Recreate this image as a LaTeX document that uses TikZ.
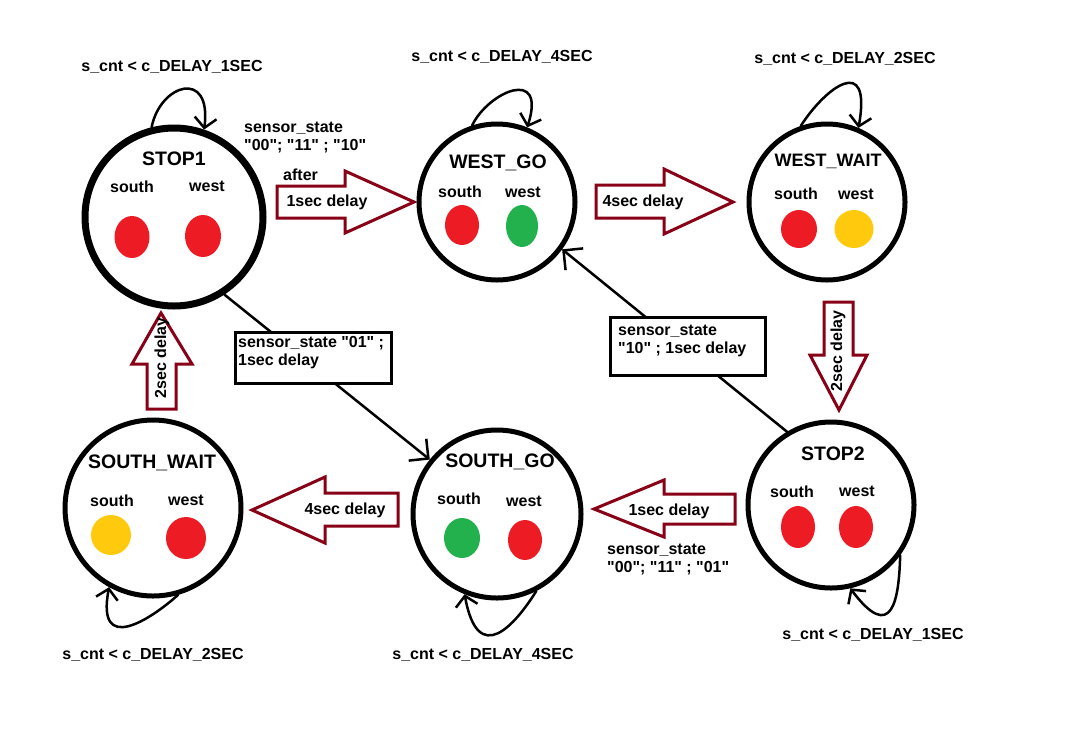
\documentclass[tikz,border=0pt]{standalone}
\usepackage{fontspec}
\setmainfont{Liberation Sans}[Ligatures=TeXOff]
\usetikzlibrary{arrows.meta,shapes.geometric}
\definecolor{lampred}{HTML}{ED1C24}
\definecolor{lampgreen}{HTML}{22B14C}
\definecolor{lampyellow}{HTML}{FFC90E}
\definecolor{arrowred}{HTML}{880015}
\begin{document}
\begin{tikzpicture}[x=1pt,y=-1pt,>={Straight Barb[length=14pt,width=28pt]}, line join=round, line cap=round,
	txt/.style={font=\fontsize{16}{18}\selectfont\bfseries, inner sep=0pt},
	ttl/.style={font=\fontsize{19.5}{22}\selectfont\bfseries, inner sep=0pt},
	state/.style={circle, draw, line width=5pt, inner sep=0pt},
	lamp/.style={ellipse, draw=none, inner sep=0pt},
	blockarrow/.style={draw=arrowred, line width=3pt, line join=miter},
	conn/.style={->, line width=2.5pt},
	selfloop/.style={-{Straight Barb[length=10pt,width=22pt]}, line width=2.5pt},
	notebox/.style={draw, fill=white, line width=3pt, line join=miter, inner sep=0pt}]
	\useasboundingbox (0,0) rectangle (1075,732);
	% states
	\node[state, line width=7pt, minimum size=178pt] (stop1) at (174,217) {};
	\node[state, minimum size=156pt] (westgo) at (497,202) {};
	\node[state, minimum size=156pt] (westwait) at (827,202) {};
	\node[state, minimum size=166pt] (stop2) at (831,505) {};
	\node[state, minimum size=168pt] (southgo) at (497,514) {};
	\node[state, minimum size=176pt] (southwait) at (153,508) {};
	% names
	\node[ttl] (stop1-t) at (174,159) {STOP1};
	\node[ttl] (westgo-t) at (498,163) {WEST\_GO};
	\node[ttl, font=\fontsize{18}{20}\selectfont\bfseries] (westwait-t) at (828,161) {WEST\_WAIT};
	\node[ttl] (stop2-t) at (833,454) {STOP2};
	\node[ttl] (southgo-t) at (500,462) {SOUTH\_GO};
	\node[ttl] (southwait-t) at (152,463) {SOUTH\_WAIT};
	% south / west
	\node[txt] (stop1-s) at (132,187) {south};
	\node[txt] (stop1-w) at (207,186) {west};
	\node[txt] (westgo-s) at (460,192) {south};
	\node[txt] (westgo-w) at (523,192) {west};
	\node[txt] (westwait-s) at (796,194) {south};
	\node[txt] (westwait-w) at (856,194) {west};
	\node[txt] (stop2-s) at (792,492) {south};
	\node[txt] (stop2-w) at (857,491) {west};
	\node[txt] (southgo-s) at (459,499) {south};
	\node[txt] (southgo-w) at (524,501) {west};
	\node[txt] (southwait-s) at (112,501) {south};
	\node[txt] (southwait-w) at (186,500) {west};
	% lamps
	\node[lamp, fill=lampred, minimum width=35pt, minimum height=42pt] (stop1-ls) at (132,237) {};
	\node[lamp, fill=lampred, minimum width=36pt, minimum height=42pt] (stop1-lw) at (203,236) {};
	\node[lamp, fill=lampred, minimum width=34pt, minimum height=40pt] (westgo-ls) at (462,225) {};
	\node[lamp, fill=lampgreen, minimum width=32pt, minimum height=42pt] (westgo-lw) at (522,226) {};
	\node[lamp, fill=lampred, minimum width=36pt, minimum height=38pt] (westwait-ls) at (799,229) {};
	\node[lamp, fill=lampyellow, minimum width=39pt, minimum height=38pt] (westwait-lw) at (854,229) {};
	\node[lamp, fill=lampred, minimum width=34pt, minimum height=42pt] (stop2-ls) at (798,527) {};
	\node[lamp, fill=lampred, minimum width=34pt, minimum height=42pt] (stop2-lw) at (856,527) {};
	\node[lamp, fill=lampgreen, minimum width=36pt, minimum height=40pt] (southgo-ls) at (462,538) {};
	\node[lamp, fill=lampred, minimum width=34pt, minimum height=40pt] (southgo-lw) at (525,540) {};
	\node[lamp, fill=lampyellow, minimum width=40pt, minimum height=40pt] (southwait-ls) at (111,535) {};
	\node[lamp, fill=lampred, minimum width=40pt, minimum height=42pt] (southwait-lw) at (186,538) {};
	% self loops
	\draw[selfloop] (stop1.104) .. controls (160,84) and (212,68) .. (stop1.71);
	\node[txt] (stop1-c) at (172,67) {s\_cnt < c\_DELAY\_1SEC};
	\draw[selfloop] (westgo.108) .. controls (488,92) and (547,66) .. (westgo.68);
	\node[txt] (westgo-c) at (502,57) {s\_cnt < c\_DELAY\_4SEC};
	\draw[selfloop] (westwait.109) .. controls (825,88) and (872,52) .. (westwait.67);
	\node[txt] (westwait-c) at (845,59) {s\_cnt < c\_DELAY\_2SEC};
	\draw[selfloop] (stop2.-36) .. controls (899,600) and (892,644) .. (stop2.-77);
	\node[txt] (stop2-c) at (873,635) {s\_cnt < c\_DELAY\_1SEC};
	\draw[selfloop] (southgo.-63) .. controls (515,625) and (478,668) .. (southgo.-112);
	\node[txt] (southgo-c) at (483,655) {s\_cnt < c\_DELAY\_4SEC};
	\draw[selfloop] (southwait.-74) .. controls (150,620) and (96,655) .. (southwait.-119);
	\node[txt] (southwait-c) at (153,655) {s\_cnt < c\_DELAY\_2SEC};
	% block arrows
	\draw[blockarrow] (277,186) -- (345,186) -- (345,171) -- (414,202) -- (345,233) -- (345,218) -- (277,218) -- cycle;
	\node[txt] (a1) at (327,202) {1sec delay};
	\node[txt, anchor=west] (a1-after) at (283,175) {after};
	\node[txt, anchor=west, align=left] (a1-cond) at (244,138) {sensor\_state\\"00"; "11" ; "10"};
	\draw[blockarrow] (596,185) -- (664,185) -- (664,169) -- (733,202) -- (664,234) -- (664,218) -- (596,218) -- cycle;
	\node[txt] (a2) at (643,202) {4sec delay};
	\draw[blockarrow] (824,302) -- (853,302) -- (853,355) -- (867,355) -- (839,410) -- (810,355) -- (824,355) -- cycle;
	\node[txt, rotate=90] (a3) at (838,351) {2sec delay};
	\draw[blockarrow] (735,494) -- (664,494) -- (664,480) -- (594,509) -- (664,537) -- (664,524) -- (735,524) -- cycle;
	\node[txt] (a4) at (669,511) {1sec delay};
	\node[txt, anchor=west, align=left] (a4-cond) at (607,560) {sensor\_state\\"00"; "11" ; "01"};
	\draw[blockarrow] (398,493) -- (325,493) -- (325,477) -- (252,510) -- (325,543) -- (325,526) -- (398,526) -- cycle;
	\node[txt] (a5) at (345,510) {4sec delay};
	\draw[blockarrow] (147,409) -- (147,364) -- (132,364) -- (161,313) -- (192,364) -- (176,364) -- (176,409) -- cycle;
	\node[txt, rotate=90] (a6) at (162,358) {2sec delay};
	% sensor transitions
	\draw[conn] (stop1.-57) -- (southgo.141);
	\node[notebox, minimum width=156pt, minimum height=51pt] (box1) at (313.5,358) {};
	\node[txt, anchor=north west, align=left] (box1-t) at ([xshift=4pt,yshift=-5pt]box1.north west) {sensor\_state "01" ;\\1sec delay};
	\draw[conn] (stop2.121) -- (westgo.-36);
	\node[notebox, minimum width=155pt, minimum height=58pt] (box2) at (688,346.5) {};
	\node[txt, anchor=north west, align=left] (box2-t) at ([xshift=9pt,yshift=-9pt]box2.north west) {sensor\_state\\"10" ; 1sec delay};
\end{tikzpicture}
\end{document}
